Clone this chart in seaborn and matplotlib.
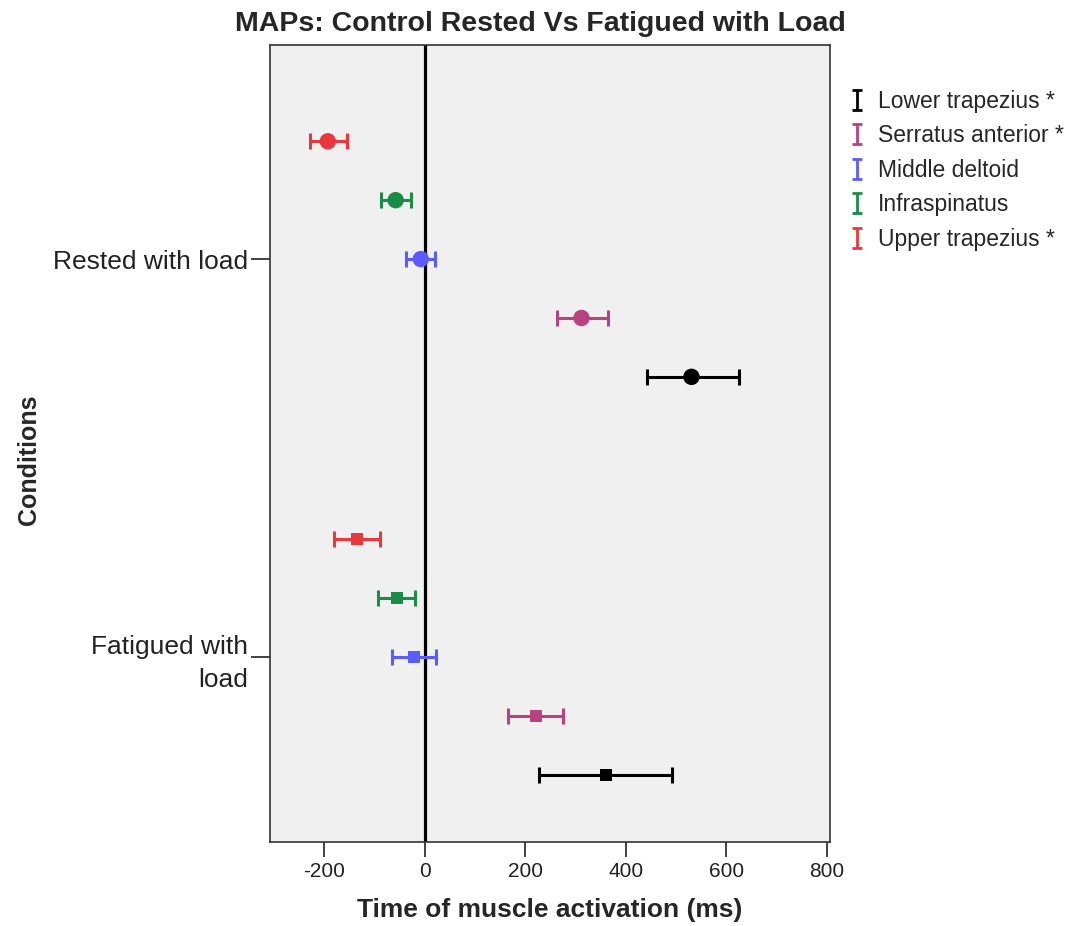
import numpy as np
import pandas as pd
import matplotlib
matplotlib.use("Agg")
import matplotlib.pyplot as plt
from matplotlib.path import Path
from matplotlib.lines import Line2D
import seaborn as sns

# ---- data ----
conditions = ["Rested with load", "Fatigued with\nload"]
muscles = ["Upper trapezius *", "Infraspinatus", "Middle deltoid",
           "Serratus anterior *", "Lower trapezius *"]  # top to bottom in each group
legend_order = ["Lower trapezius *", "Serratus anterior *", "Middle deltoid",
                "Infraspinatus", "Upper trapezius *"]
colors = {"Lower trapezius *": "#000000", "Serratus anterior *": "#b8427f",
          "Middle deltoid": "#5b5bff", "Infraspinatus": "#1b8c45",
          "Upper trapezius *": "#e8383d"}

rested_mean = [-193, -58, -8, 312, 531]
rested_lo = [-228, -88, -38, 263, 442]
rested_hi = [-155, -28, 20, 364, 625]
fatigued_mean = [-135, -56, -22, 221, 360]
fatigued_lo = [-181, -94, -66, 165, 227]
fatigued_hi = [-90, -20, 22, 275, 492]

rows = []
for ci, (m, lo, hi) in enumerate([(rested_mean, rested_lo, rested_hi),
                                  (fatigued_mean, fatigued_lo, fatigued_hi)]):
    for mi, name in enumerate(muscles):
        rows.append(dict(condition=conditions[ci], cidx=ci, muscle=name, midx=mi,
                         mean=m[mi], lo=lo[mi], hi=hi[mi]))
df = pd.DataFrame(rows)
offset = 0.148
df["ypos"] = df["cidx"] + (df["midx"] - 2) * offset

# ---- figure ----
sns.set_style("white")
plt.rcParams["font.family"] = ["Liberation Sans", "DejaVu Sans"]

fig = plt.figure(figsize=(10.76, 9.26), dpi=100)
ax = fig.add_axes([0.251, 0.0907, 0.52, 0.8607])
ax.set_facecolor("#f0f0f0")

ax.axvline(0, color="black", lw=2.3, zorder=1)

for _, r in df.iterrows():
    ax.errorbar(r["mean"], r["ypos"],
                xerr=[[r["mean"] - r["lo"]], [r["hi"] - r["mean"]]],
                fmt="none", ecolor=colors[r["muscle"]], elinewidth=2.2,
                capsize=5.5, capthick=2.2, zorder=2)

sns.scatterplot(data=df[df["cidx"] == 0], x="mean", y="ypos", hue="muscle",
                palette=colors, marker="o", s=140, edgecolor="none",
                legend=False, ax=ax, zorder=3)
sns.scatterplot(data=df[df["cidx"] == 1], x="mean", y="ypos", hue="muscle",
                palette=colors, marker="s", s=75, edgecolor="none",
                legend=False, ax=ax, zorder=3)

ax.set_xlim(-308, 806)
ax.set_ylim(1.465, -0.538)
ax.set_xticks([-200, 0, 200, 400, 600, 800])
ax.set_xticklabels(["-200", "0", "200", "400", "600", "800"])
ax.set_yticks([0, 1])
ax.set_yticklabels(conditions, ha="right", multialignment="right", linespacing=1.45)
ax.tick_params(axis="x", labelsize=15, length=11, width=1.2, direction="out",
               bottom=True, colors="#222222", labelcolor="#222222")
ax.tick_params(axis="y", labelsize=19, length=14, width=1.2, direction="out",
               left=True, colors="#222222", labelcolor="#222222", pad=2)
for sp in ax.spines.values():
    sp.set_color("#333333")
    sp.set_linewidth(1.2)

ax.set_xlabel("Time of muscle activation (ms)", fontsize=19, fontweight="bold",
              labelpad=12)
ax.set_ylabel("Conditions", fontsize=18, fontweight="bold")
ax.yaxis.set_label_coords(-0.41, 0.479)

fig.suptitle("MAPs: Control Rested Vs Fatigued with Load", fontsize=20.5,
             fontweight="bold", y=0.974, va="center", x=0.502)

# legend with I-shaped handles
ipath = Path([(-0.5, 1), (0.5, 1), (0, 1), (0, -1), (-0.5, -1), (0.5, -1)],
             [Path.MOVETO, Path.LINETO, Path.MOVETO, Path.LINETO, Path.MOVETO, Path.LINETO])
handles = [Line2D([], [], marker=ipath, linestyle="none", markersize=14,
                  markeredgewidth=2.0, markerfacecolor="none",
                  markeredgecolor=colors[n], color=colors[n]) for n in legend_order]
fig.legend(handles, legend_order, loc="upper left", bbox_to_anchor=(0.782, 0.913),
           frameon=False, fontsize=16.5, handlelength=0.6, handletextpad=0.6,
           labelspacing=0.5, borderaxespad=0)

fig.savefig("out.png", dpi=100)
